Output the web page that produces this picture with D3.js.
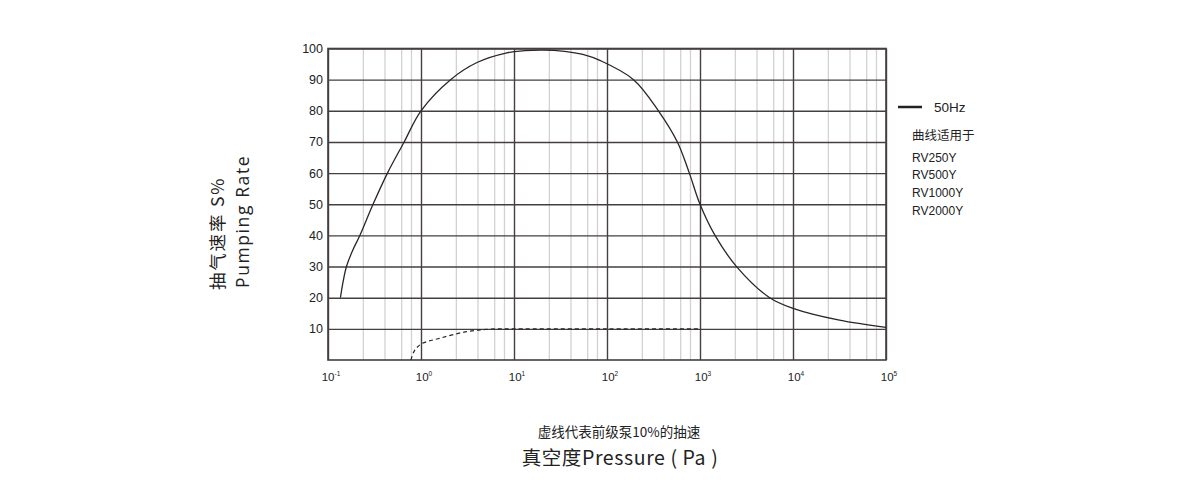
<!DOCTYPE html>
<html><head><meta charset="utf-8">
<script src="https://cdn.jsdelivr.net/npm/d3@7"></script>
<style>
body{margin:0;background:#fff;}
svg{display:block;}
</style></head>
<body>
<svg id="chart" width="1200" height="497"></svg>
<script>
// ---- data ----
const yTicks = [10,20,30,40,50,60,70,80,90,100];
const xDecades = [0.1,1,10,100,1000,10000,100000];
const xTickExp = ["-1","0","1","2","3","4","5"];
const minorMult = [2.4,4.1,6.2,7.9];
const mainP = [0.136,0.145,0.158,0.183,0.22,0.305,0.436,0.659,1.0,2.08,4.0,8.4,13,20,35,55,85,193,357,571,768,1000,1450,2470,5620,10000,31600,100000];
const mainS = [20,25,30,35,40,50,60,70,80,90,95.5,98.6,99.3,99.5,99.1,98.1,96.1,90,80,70,60,50,40,30,20,16.6,12.8,10.5];
const dashP = [0.78,0.84,1.0,1.6,3.1,5.4,10,100,1000];
const dashS = [0,2.7,5.1,7.0,9.1,9.9,10,10,10];
const legendLabel = "50Hz";
const legendNote = ["曲线适用于","RV250Y","RV500Y","RV1000Y","RV2000Y"];
const yTitle = ["抽气速率 S%","Pumping Rate"];
const xNote = "虚线代表前级泵10%的抽速";
const xTitle = "真空度Pressure ( Pa )";

const svg = d3.select("#chart");
const L=328, R=886, T=48.5, B=360;
const x = d3.scaleLog().domain([0.1,1e5]).range([L,R]);
const y = d3.scaleLinear().domain([0,100]).range([B,T]);

const minorVals = [];
xDecades.slice(0,-1).forEach(d=>minorMult.forEach(m=>minorVals.push(d*m)));

// minor vertical grid
svg.append("g").selectAll("line").data(minorVals).join("line")
  .attr("x1",d=>x(d)).attr("x2",d=>x(d)).attr("y1",T).attr("y2",B)
  .attr("stroke","#d2d2d2").attr("stroke-width",1.3);

// horizontal grid
const gH = svg.append("g").attr("transform",`translate(${L},0)`)
  .call(d3.axisLeft(y).tickValues(yTicks).tickSize(-(R-L)).tickPadding(5).tickFormat(d3.format("d")));
gH.select(".domain").remove();
gH.selectAll("line").attr("stroke","#453f3f").attr("stroke-width",1.4);
gH.selectAll("text").attr("font-family","Liberation Sans, Arial, sans-serif").attr("font-size",12.5).attr("fill","#222");

// major vertical grid
const gV = svg.append("g").attr("transform",`translate(0,${B})`)
  .call(d3.axisBottom(x).tickValues(xDecades).tickSize(-(B-T)).tickFormat(""));
gV.select(".domain").remove();
gV.selectAll("line").attr("stroke","#453f3f").attr("stroke-width",1.4);

// frame
svg.append("rect").attr("x",L).attr("y",T).attr("width",R-L).attr("height",B-T)
  .attr("fill","none").attr("stroke","#453f3f").attr("stroke-width",1.6);

// x tick labels
const xl = svg.append("g").attr("font-family","Liberation Sans, Arial, sans-serif").attr("fill","#222");
xDecades.forEach((d,i)=>{
  const t = xl.append("text").attr("x",x(d)+3).attr("y",381).attr("text-anchor","middle").attr("font-size",11.5);
  t.append("tspan").text("10");
  t.append("tspan").attr("dy",-5).attr("font-size",6.5).text(xTickExp[i]);
});

// curves
const line = d3.line().x(d=>x(d[0])).y(d=>y(d[1])).curve(d3.curveCatmullRom.alpha(0.5));
svg.append("path").datum(mainP.map((p,i)=>[p,mainS[i]])).attr("d",line)
  .attr("fill","none").attr("stroke","#2b2626").attr("stroke-width",1.3);
svg.append("path").datum(dashP.map((p,i)=>[p,dashS[i]])).attr("d",line)
  .attr("fill","none").attr("stroke","#2b2626").attr("stroke-width",1.2).attr("stroke-dasharray","4,3");

// legend
svg.append("line").attr("x1",898).attr("x2",922).attr("y1",107).attr("y2",107).attr("stroke","#222").attr("stroke-width",2.5);
svg.append("text").attr("x",934).attr("y",112).attr("font-family","Liberation Sans, Arial, sans-serif")
  .attr("font-size",13.5).attr("fill","#222").text(legendLabel);
svg.append("text").attr("x",912).attr("y",140).attr("font-family","Noto Sans CJK SC, sans-serif")
  .attr("font-size",12.5).attr("fill","#222").text(legendNote[0]);
legendNote.slice(1).forEach((s,i)=>{
  svg.append("text").attr("x",912).attr("y",161.5+i*17.7).attr("font-family","Liberation Sans, Arial, sans-serif")
    .attr("font-size",12).attr("fill","#222").text(s);
});

// y title
svg.append("text").attr("transform",`translate(224,290) rotate(-90)`)
  .attr("font-family","Noto Sans CJK SC, sans-serif").attr("letter-spacing",1.8)
  .attr("font-size",17.5).attr("fill","#222").text(yTitle[0]);
svg.append("text").attr("transform",`translate(249,288) rotate(-90)`)
  .attr("font-family","Open Sans, sans-serif").attr("letter-spacing",1.6)
  .attr("font-size",17.5).attr("fill","#222").text(yTitle[1]);

// x titles
svg.append("text").attr("x",619).attr("y",437).attr("text-anchor","middle")
  .attr("font-family","Noto Sans CJK SC, sans-serif").attr("font-size",13.5).attr("fill","#222").text(xNote);
svg.append("text").attr("x",620).attr("y",465).attr("text-anchor","middle")
  .attr("font-family","Noto Sans CJK SC, sans-serif").attr("font-size",19.5).attr("letter-spacing",0.6)
  .attr("fill","#222").text(xTitle);
</script>
</body></html>
